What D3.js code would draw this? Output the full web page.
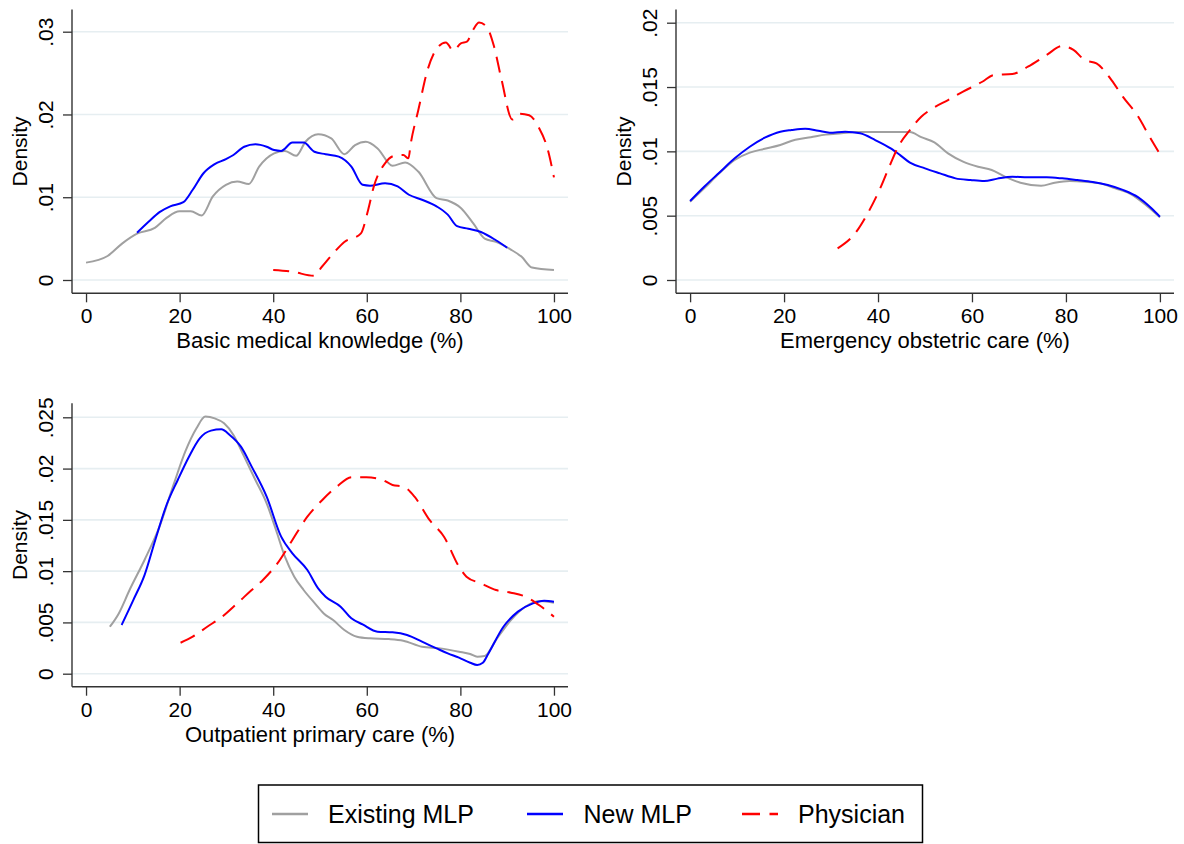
<!DOCTYPE html>
<html>
<head>
<meta charset="utf-8">
<script src="https://cdn.jsdelivr.net/npm/d3@7"></script>
<style>
  html, body { margin: 0; padding: 0; background: #fff; }
  svg { display: block; }
  text { font-family: "Liberation Sans", Arial, Helvetica, sans-serif; fill: #000; }
</style>
</head>
<body>
<svg id="chart" width="1184" height="844"></svg>
<script>
// ---------------- DATA ----------------
const seriesNames = ["Existing MLP", "New MLP", "Physician"];
const xTickValues = [0, 20, 40, 60, 80, 100];
const xTickLabels = ["0", "20", "40", "60", "80", "100"];

const yTicksBasic = [0, 0.01, 0.02, 0.03];
const yLabelsBasic = ["0", ".01", ".02", ".03"];
const yTicksEmerg = [0, 0.005, 0.01, 0.015, 0.02];
const yLabelsEmerg = ["0", ".005", ".01", ".015", ".02"];
const yTicksOutp = [0, 0.005, 0.01, 0.015, 0.02, 0.025];
const yLabelsOutp = ["0", ".005", ".01", ".015", ".02", ".025"];

const panelTitles = ["Basic medical knowledge (%)", "Emergency obstetric care (%)", "Outpatient primary care (%)"];

// Basic medical knowledge
const basicExisting = [[0,.0021],[4.6,.0029],[7.7,.0044],[10.9,.0056],[14.7,.0063],[17.2,.0075],[20,.0083],[22.4,.0083],[24.7,.0078],[27.1,.0101],[29.9,.0115],[32.3,.0119],[34.8,.0116],[37,.0137],[40.2,.0153],[42.5,.0156],[44.9,.0150],[46.9,.0167],[49.6,.0176],[52.4,.0171],[55.2,.0152],[57.5,.0163],[59.8,.0167],[62.3,.0159],[65.5,.0138],[68.2,.0142],[71,.0131],[74.9,.0099],[77.3,.0096],[80.1,.0087],[82.8,.0068],[85.2,.0050],[87.6,.0046],[90.7,.0037],[93.1,.0028],[95.3,.0015],[100,.0012]];
const basicNew = [[10.9,.0057],[13.3,.0070],[15.7,.0082],[18,.0089],[20.8,.0094],[22.8,.0109],[25.1,.0129],[27.5,.0140],[29.9,.0146],[31.5,.0151],[33.8,.0161],[36.2,.0164],[38.6,.0161],[40.2,.0157],[41.7,.0156],[44.1,.0166],[46.5,.0166],[48.8,.0155],[51.2,.0152],[54,.0149],[56.7,.0137],[59.1,.0115],[60.7,.0114],[63.9,.0117],[66.6,.0113],[69,.0103],[71.8,.0097],[74.9,.0089],[77.3,.0079],[79.3,.0065],[81.7,.0062],[84.4,.0058],[87.6,.0048],[90,.0039]];
const basicPhys = [[40,.0012],[44.1,.0010],[48.7,.0005],[50.4,.0016],[52.8,.0032],[55.2,.0046],[58.7,.0056],[60.3,.0085],[61.5,.0113],[63.9,.0141],[65.8,.0150],[67.8,.0151],[68.9,.0147],[69.4,.0165],[71,.0205],[73,.0254],[75,.0280],[76.9,.0287],[78.5,.0277],[80.1,.0286],[81.4,.0288],[82.7,.0302],[84,.0311],[85.6,.0306],[87.2,.0282],[88.8,.0242],[91.1,.0194],[92.7,.0201],[94.7,.0199],[96.7,.0185],[98.7,.0157],[100,.0124]];

// Emergency obstetric care
const emergExisting = [[0,.00609],[3,.00712],[6.2,.00829],[9.5,.00933],[12.7,.0099],[15.9,.0102],[19.2,.0105],[22.4,.0109],[25.7,.0111],[28.9,.0113],[32.2,.0114],[35.4,.0115],[40.3,.0115],[43.5,.0115],[46.8,.0115],[49.2,.0111],[52,.0107],[54.9,.00984],[58.1,.0092],[61.3,.0088],[64.2,.00855],[67,.00803],[70.3,.00756],[74.7,.00733],[77.6,.00756],[80.8,.00769],[84,.00764],[87.3,.00751],[90.5,.00712],[93.8,.00668],[97,.00583],[100,.00487]];
const emergNew = [[0,.00614],[3,.00725],[6.2,.00834],[9.5,.00946],[12.7,.01036],[15.9,.01106],[19.2,.01153],[21.6,.01166],[24.5,.01176],[27.3,.0116],[29.7,.01145],[33,.01153],[36.2,.0114],[39.4,.01088],[42.7,.01023],[44.7,.00971],[46.8,.00912],[50,.00868],[53.2,.00829],[56.5,.0079],[59.7,.00777],[62.6,.00769],[65.4,.00788],[68.6,.00803],[71.9,.00798],[75.9,.00798],[79.2,.0079],[82.4,.00777],[85.7,.00762],[88.9,.00738],[92.1,.007],[95.4,.00642],[98.2,.00557],[100,.00492]];
const emergPhys = [[31.4,.00246],[35.4,.00376],[37.8,.00518],[40.3,.00699],[42.7,.00907],[44.3,.01036],[46.8,.01166],[49.2,.01269],[51.6,.01334],[54.9,.01399],[58.1,.01464],[62.2,.01541],[64.6,.01593],[68.6,.01601],[71.9,.01658],[75.9,.01749],[79.2,.01819],[81.6,.01788],[84,.0171],[86.5,.01684],[89.7,.01554],[92.1,.01425],[95.4,.01269],[97.8,.01114],[100,.00979]];

// Outpatient primary care
const outpExisting = [[5.1,.00458],[7,.00588],[9.3,.00816],[12.5,.01109],[15.7,.01434],[18.8,.01856],[21.2,.02165],[23.6,.02393],[25.5,.02507],[27.5,.0249],[29.5,.02441],[31.5,.02328],[33.8,.02116],[36.2,.01889],[38.6,.01661],[40.6,.01401],[42.5,.01141],[44.5,.00946],[46.5,.00816],[48.9,.00686],[50.8,.00588],[52.8,.00523],[55.2,.00426],[57.9,.00361],[60.7,.00345],[64.7,.00338],[67.8,.00322],[71.8,.00263],[75.7,.00247],[79.7,.00215],[82.1,.00192],[83.6,.00166],[85.2,.00172],[87.6,.00328],[90.8,.00523],[93.9,.00653],[97.1,.00709],[100,.00692]];
const outpNew = [[7.6,.00475],[10.1,.00718],[12.5,.00962],[14.8,.01304],[17.2,.01645],[19.6,.01889],[22,.02116],[24.3,.02295],[26.7,.0237],[28.9,.02383],[30.7,.02328],[33.1,.02214],[35.4,.02019],[38.6,.01726],[41.7,.01336],[44.1,.01174],[47.3,.01011],[49.6,.00832],[51.2,.00751],[54.4,.00653],[56.7,.0054],[59.1,.00481],[62.3,.0041],[65.5,.00403],[68.6,.00377],[71.8,.00312],[74.9,.00247],[77.3,.00198],[79.7,.00156],[82.1,.00107],[83.6,.00085],[84.8,.00107],[86,.00198],[89.2,.00458],[92.3,.00605],[95.5,.00686],[97.9,.00712],[100,.00702]];
const outpPhys = [[20.2,.00302],[22.8,.00361],[25.9,.00458],[29.1,.00556],[32.3,.00686],[35.4,.00816],[37.8,.00914],[40.9,.01076],[44.1,.01304],[47.3,.01531],[50.5,.01694],[53.6,.01824],[56.8,.01915],[59.9,.01915],[63.1,.01895],[65.5,.0184],[67.8,.01824],[70.2,.01726],[73.4,.01499],[76.5,.01336],[79.7,.01044],[81.3,.00946],[84.4,.00881],[87.6,.00816],[90.8,.0079],[93.9,.00751],[97.1,.0066],[100,.00556]];

// ---------------- LAYOUT / STYLE ----------------
const colors = ["#a0a0a0", "#0000ff", "#ff0000"];
const dashes = [null, null, "16,9"];

const panels = [
  { title: panelTitles[0], series: [basicExisting, basicNew, basicPhys], yTicks: yTicksBasic, yLabels: yLabelsBasic,
    left: 72, right: 568, top: 9.5, bottom: 293.3, yZeroPx: 280, yTopPx: 31.7 },
  { title: panelTitles[1], series: [emergExisting, emergNew, emergPhys], yTicks: yTicksEmerg, yLabels: yLabelsEmerg,
    left: 676, right: 1174, top: 9.5, bottom: 293.3, yZeroPx: 280, yTopPx: 22.7 },
  { title: panelTitles[2], series: [outpExisting, outpNew, outpPhys], yTicks: yTicksOutp, yLabels: yLabelsOutp,
    left: 72, right: 568, top: 403.3, bottom: 686.7, yZeroPx: 673.7, yTopPx: 417.3 }
];

const svg = d3.select("#chart");
svg.append("rect").attr("width", 1184).attr("height", 844).attr("fill", "#fff");

panels.forEach(p => {
  const x = d3.scaleLinear().domain([-3, 103]).range([p.left, p.right]);
  const yMax = p.yTicks[p.yTicks.length - 1];
  const y = d3.scaleLinear().domain([0, yMax]).range([p.yZeroPx, p.yTopPx]);
  const g = svg.append("g");

  // gridlines
  g.append("g").selectAll("line").data(p.yTicks).join("line")
    .attr("x1", p.left).attr("x2", p.right)
    .attr("y1", d => y(d)).attr("y2", d => y(d))
    .attr("stroke", "#e6eef1").attr("stroke-width", 1.6);

  // series lines
  const line = d3.line().x(d => x(d[0])).y(d => y(d[1])).curve(d3.curveMonotoneX);
  p.series.forEach((s, i) => {
    g.append("path").datum(s).attr("d", line)
      .attr("fill", "none").attr("stroke", colors[i]).attr("stroke-width", 2)
      .attr("stroke-linejoin", "round")
      .attr("stroke-dasharray", dashes[i]);
  });

  // y axis
  const yAxis = d3.axisLeft(y).tickValues(p.yTicks).tickFormat((d, i) => p.yLabels[i]).tickSize(9).tickSizeOuter(0);
  const ya = g.append("g").attr("transform", `translate(${p.left},0)`).call(yAxis);
  ya.select(".domain").remove();
  ya.selectAll(".tick line").attr("stroke", "#333").attr("stroke-width", 1.3);
  ya.selectAll(".tick text")
    .attr("x", null).attr("dy", null)
    .attr("transform", "translate(-19.5,0) rotate(-90)")
    .attr("text-anchor", "middle")
    .style("font-size", "21px").style("font-family", "'Liberation Sans', Arial, sans-serif").attr("fill", "#000");
  g.append("line").attr("x1", p.left).attr("x2", p.left).attr("y1", p.top).attr("y2", p.bottom)
    .attr("stroke", "#333").attr("stroke-width", 1.4);

  // x axis
  const xAxis = d3.axisBottom(x).tickValues(xTickValues).tickFormat((d, i) => xTickLabels[i]).tickSize(9).tickSizeOuter(0);
  const xa = g.append("g").attr("transform", `translate(0,${p.bottom})`).call(xAxis);
  xa.select(".domain").remove();
  xa.selectAll(".tick line").attr("stroke", "#333").attr("stroke-width", 1.3);
  xa.selectAll(".tick text")
    .attr("y", 30.2).attr("dy", null)
    .style("font-size", "21px").style("font-family", "'Liberation Sans', Arial, sans-serif").attr("fill", "#000");
  g.append("line").attr("x1", p.left).attr("x2", p.right).attr("y1", p.bottom).attr("y2", p.bottom)
    .attr("stroke", "#333").attr("stroke-width", 1.4);

  // axis titles
  g.append("text").attr("x", (p.left + p.right) / 2).attr("y", p.bottom + 54.8)
    .attr("text-anchor", "middle").style("font-size", "22px").text(p.title);
  g.append("text")
    .attr("transform", `translate(${p.left - 45},${(p.top + p.bottom) / 2}) rotate(-90)`)
    .attr("text-anchor", "middle").style("font-size", "21px").text("Density");
});

// legend
const lg = svg.append("g");
lg.append("rect").attr("x", 258.5).attr("y", 785).attr("width", 664).attr("height", 57.5)
  .attr("fill", "#fff").attr("stroke", "#000").attr("stroke-width", 1.5);
const legendItems = [
  { sx: 272, tx: 328 },
  { sx: 527, tx: 583.5 },
  { sx: 742, tx: 798 }
];
seriesNames.forEach((name, i) => {
  const it = legendItems[i];
  lg.append("line").attr("x1", it.sx).attr("x2", it.sx + 36).attr("y1", 814).attr("y2", 814)
    .attr("stroke", colors[i]).attr("stroke-width", 2.5).attr("stroke-dasharray", i === 2 ? "18,9.5" : null);
  lg.append("text").attr("x", it.tx).attr("y", 823).style("font-size", "25px").text(name);
});
</script>
</body>
</html>
